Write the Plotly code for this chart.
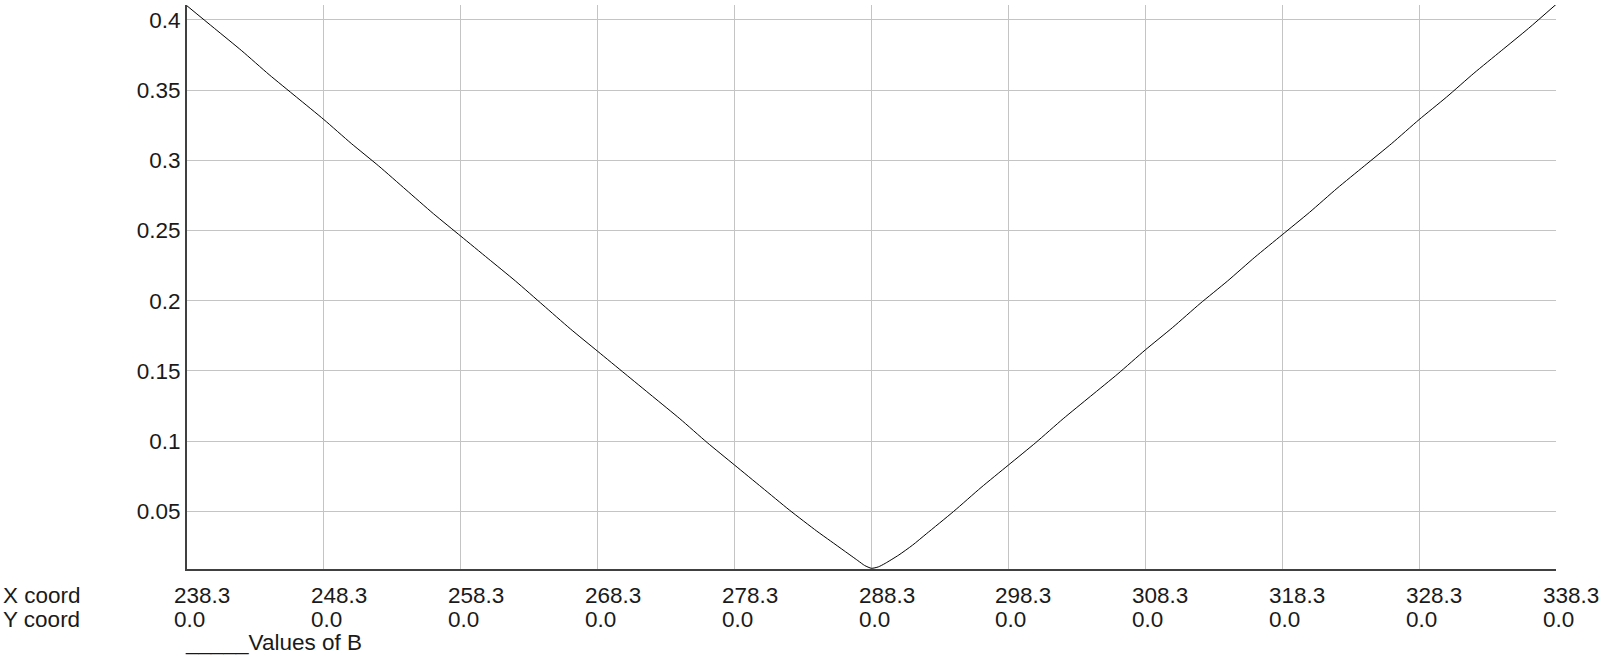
import plotly.graph_objects as go

# Sampled positions along the X coordinate and the corresponding values of B
x_coord = [238.3, 240.3, 242.3, 244.3, 246.3, 248.3, 250.3, 252.3, 254.3, 256.3,
           258.3, 260.3, 262.3, 264.3, 266.3, 268.3, 270.3, 272.3, 274.3, 276.3,
           278.3, 280.3, 282.3, 284.3, 285.3, 286.3, 287.3, 287.8, 288.3, 288.8,
           289.3, 290.3, 291.3, 292.3, 294.3, 296.3, 298.3, 300.3, 302.3, 304.3,
           306.3, 308.3, 310.3, 312.3, 314.3, 316.3, 318.3, 320.3, 322.3, 324.3,
           326.3, 328.3, 330.3, 332.3, 334.3, 336.3, 338.3]
values_b = [0.410, 0.394, 0.378, 0.361, 0.345, 0.329, 0.312, 0.296, 0.279, 0.262,
            0.246, 0.230, 0.214, 0.197, 0.180, 0.164, 0.148, 0.132, 0.116, 0.099,
            0.083, 0.067, 0.051, 0.036, 0.029, 0.022, 0.015, 0.0115, 0.0095, 0.0105,
            0.013, 0.019, 0.026, 0.034, 0.050, 0.067, 0.083, 0.099, 0.116, 0.132,
            0.148, 0.165, 0.181, 0.198, 0.214, 0.231, 0.247, 0.263, 0.280, 0.296,
            0.312, 0.329, 0.345, 0.362, 0.378, 0.394, 0.411]

# Tick positions / labels
x_ticks = [238.3, 248.3, 258.3, 268.3, 278.3, 288.3, 298.3, 308.3, 318.3, 328.3, 338.3]
x_tick_labels = ["238.3", "248.3", "258.3", "268.3", "278.3", "288.3",
                 "298.3", "308.3", "318.3", "328.3", "338.3"]
y_coord_labels = ["0.0"] * len(x_ticks)
y_ticks = [0.05, 0.1, 0.15, 0.2, 0.25, 0.3, 0.35, 0.4]
y_tick_labels = ["0.05", "0.1", "0.15", "0.2", "0.25", "0.3", "0.35", "0.4"]

FONT = "Liberation Sans, Arial, sans-serif"
FS = 22.5
TXT = "#1a1a1a"
ROW_SHIFTS = [-26, -50]     # vertical offsets of the "X coord" and "Y coord" rows
LEGEND_SHIFT = -73

fig = go.Figure()
fig.add_trace(go.Scatter(
    x=x_coord, y=values_b, mode="lines",
    line=dict(color="#000000", width=1, shape="spline", smoothing=0.6),
    name="Values of B", showlegend=False, hoverinfo="x+y",
))


def label(text, x, xref, xshift, yshift):
    return dict(
        x=x, y=0, xref=xref, yref="paper", xanchor="left", yanchor="middle",
        text=text, align="left", showarrow=False,
        xshift=xshift, yshift=yshift, font=dict(family=FONT, size=FS, color=TXT),
    )


annotations = []
for row_labels, shift in zip([x_tick_labels, y_coord_labels], ROW_SHIFTS):
    for xv, txt in zip(x_ticks, row_labels):
        annotations.append(label(txt, xv, "x", -15, shift))
annotations.append(label("X coord", 0, "paper", -186, ROW_SHIFTS[0]))
annotations.append(label("Y coord", 0, "paper", -186, ROW_SHIFTS[1]))
annotations.append(label("_____Values of B", 0, "paper", -4, LEGEND_SHIFT))

fig.update_layout(
    width=1604, height=657,
    margin=dict(l=187, r=48, t=5, b=88),
    paper_bgcolor="white", plot_bgcolor="white",
    font=dict(family=FONT, size=FS, color=TXT),
    annotations=annotations,
    xaxis=dict(
        range=[238.3, 338.3], tickvals=x_ticks, showticklabels=False,
        showgrid=True, gridcolor="#c4c4c4", gridwidth=1,
        showline=True, linecolor="#404040", linewidth=2, mirror=False,
        zeroline=False, ticks="",
    ),
    yaxis=dict(
        range=[0.009, 0.4106], tickvals=y_ticks, ticktext=y_tick_labels,
        showgrid=True, gridcolor="#c4c4c4", gridwidth=1,
        showline=True, linecolor="#404040", linewidth=2,
        zeroline=False, ticks="", ticklabelstandoff=0,
        tickfont=dict(family=FONT, size=FS, color=TXT),
    ),
)

fig.write_html("out.html")
